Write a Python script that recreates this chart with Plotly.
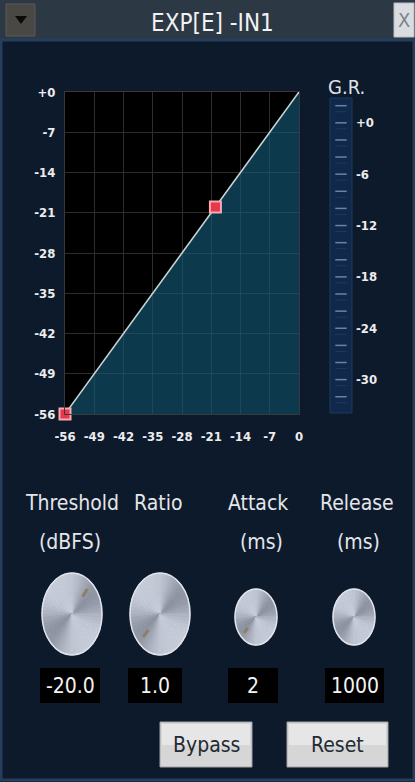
import math
import plotly.graph_objects as go

W, H = 415, 782

# ---------------- data ----------------
AXIS_TICKS = [-56, -49, -42, -35, -28, -21, -14, -7, 0]
X_TICK_TEXT = ["-56", "-49", "-42", "-35", "-28", "-21", "-14", "-7", "0"]
Y_TICK_TEXT = ["-56", "-49", "-42", "-35", "-28", "-21", "-14", "-7", "+0"]
CURVE_IN = [-56, 0]
CURVE_OUT = [-56, 0]
HANDLE_IN = [-56, -20]
HANDLE_OUT = [-56, -20]
GR_TICKS = [0, -6, -12, -18, -24, -30]
GR_TICK_TEXT = ["+0", "-6", "-12", "-18", "-24", "-30"]
GR_MARKS = [2, 0, -2, -4, -6, -8, -10, -12, -14, -16, -18, -20, -22, -24, -26, -28, -30, -32]
PARAM_NAMES = ["Threshold", "Ratio", "Attack", "Release"]
PARAM_UNITS = ["(dBFS)", "", "(ms)", "(ms)"]
PARAM_VALUES = ["-20.0", "1.0", "2", "1000"]
BUTTONS = ["Bypass", "Reset"]
TITLE = "EXP[E] -IN1"

FONT = "Liberation Sans Narrow, DejaVu Sans Condensed, Roboto Condensed, Arial Narrow, sans-serif"
BG = "#0d1a2b"


def px(x):
    return x / W


def py(y):
    return 1 - y / H


shapes = []
annotations = []


def note(text, x, y, size, color, **kw):
    d = dict(text=text, x=px(x), y=py(y), xref="paper", yref="paper", showarrow=False,
             xanchor="center", yanchor="middle", font=dict(family=FONT, size=size, color=color))
    d.update(kw)
    annotations.append(d)


# ---------------- traces ----------------
fig = go.Figure()
fig.add_trace(go.Scatter(
    x=[CURVE_IN[0], CURVE_IN[-1], CURVE_IN[-1], CURVE_IN[0]],
    y=[CURVE_OUT[0], CURVE_OUT[-1], CURVE_OUT[0], CURVE_OUT[0]],
    fill="toself", fillcolor="rgba(20,92,122,0.62)", line=dict(width=0),
    mode="lines", hoverinfo="skip", showlegend=False))
fig.add_trace(go.Scatter(
    x=CURVE_IN, y=CURVE_OUT, mode="lines",
    line=dict(color="#c9d3d6", width=1.6), hoverinfo="skip", showlegend=False))
fig.add_trace(go.Scatter(
    x=HANDLE_IN, y=HANDLE_OUT, mode="markers",
    marker=dict(symbol="square", size=11, color="#e8364a",
                line=dict(color="#f6a9b0", width=2)),
    cliponaxis=False, showlegend=False))

# G.R. meter dashes
gx, gy = [], []
for m in GR_MARKS:
    gx += [0.24, 0.76, None]
    gy += [m, m, None]
fig.add_trace(go.Scatter(x=gx, y=gy, mode="lines", xaxis="x2", yaxis="y2",
                         line=dict(color="#6a84a0", width=1.5),
                         hoverinfo="skip", showlegend=False))
fig.add_trace(go.Scatter(x=gx, y=[v - 0.7 if v is not None else None for v in gy],
                         mode="lines", xaxis="x2", yaxis="y2",
                         line=dict(color="#1d3a5c", width=1),
                         hoverinfo="skip", showlegend=False))

# ---------------- window chrome ----------------
shapes.append(dict(type="rect", xref="paper", yref="paper", x0=0, x1=1, y0=py(40), y1=1,
                   fillcolor="#2d3845", line=dict(width=0), layer="above"))
shapes.append(dict(type="rect", xref="paper", yref="paper", x0=px(6), x1=px(35), y0=py(36), y1=py(4),
                   fillcolor="#4a4844", line=dict(color="#5a5854", width=1), layer="above"))
shapes.append(dict(type="path", xref="paper", yref="paper",
                   path=f"M {px(15)},{py(16)} L {px(27)},{py(16)} L {px(21)},{py(24)} Z",
                   fillcolor="#0a0a0a", line=dict(width=0), layer="above"))
shapes.append(dict(type="rect", xref="paper", yref="paper", x0=px(394), x1=px(414), y0=py(37), y1=py(3),
                   fillcolor="#d9dde2", line=dict(color="#b9bec4", width=1), layer="above"))
note("X", 404, 20, 20, "#7a828c")
note(TITLE, 212, 23, 24, "#f2f2f2")
shapes.append(dict(type="rect", xref="paper", yref="paper", x0=px(1), x1=px(414), y0=py(780), y1=py(40),
                   fillcolor="rgba(0,0,0,0)", line=dict(color="#243e5c", width=3), layer="above"))

# ---------------- G.R. meter ----------------
shapes.append(dict(type="rect", xref="x2 domain", yref="y2 domain", x0=0, x1=1, y0=0, y1=1,
                   fillcolor="#10294a", line=dict(color="#1b3a60", width=1), layer="below"))
note("G.R.", 346, 87, 20, "#dfe3e8")

# ---------------- parameter labels, knobs, values ----------------
name_x = [72, 158, 258, 357]
unit_x = [70, 158, 261, 358]
for t, cx in zip(PARAM_NAMES, name_x):
    note(t, cx, 503, 21, "#e4e6ea")
for t, cx in zip(PARAM_UNITS, unit_x):
    if t:
        note(t, cx, 542, 21, "#e4e6ea")


def knob(cx, cy, rx, ry, notch_angle):
    n = 72
    for i in range(n):
        a0 = 2 * math.pi * i / n
        a1 = 2 * math.pi * (i + 1) / n
        am = (a0 + a1) / 2
        t = 0.6 + 0.26 * math.cos(2 * (am - math.radians(125))) + 0.06 * math.cos(4 * am + 0.9)
        t = max(0.0, min(1.0, t))
        r = int(116 + 104 * t)
        g = int(122 + 104 * t)
        b = int(136 + 102 * t)
        col = f"rgb({r},{g},{b})"
        pts = []
        for a in (a0, am, a1):
            pts.append((px(cx + rx * math.cos(a)), py(cy - ry * math.sin(a))))
        path = f"M {px(cx)},{py(cy)} " + " ".join(f"L {x},{y}" for x, y in pts) + " Z"
        shapes.append(dict(type="path", xref="paper", yref="paper", path=path,
                           fillcolor=col, line=dict(color=col, width=0.8), layer="above"))
    shapes.append(dict(type="circle", xref="paper", yref="paper",
                       x0=px(cx - rx), x1=px(cx + rx), y0=py(cy + ry), y1=py(cy - ry),
                       fillcolor="rgba(0,0,0,0)", line=dict(color="#dfe3ea", width=1.5), layer="above"))
    if notch_angle is not None:
        a = math.radians(notch_angle)
        r0, r1 = 0.55, 0.8
        shapes.append(dict(type="line", xref="paper", yref="paper",
                           x0=px(cx + rx * r0 * math.cos(a)), y0=py(cy - ry * r0 * math.sin(a)),
                           x1=px(cx + rx * r1 * math.cos(a)), y1=py(cy - ry * r1 * math.sin(a)),
                           line=dict(color="#8c8068", width=3), layer="above"))


knob(72, 614, 30, 41, 50)
knob(160, 614, 30, 41, 225)
knob(256, 617, 21, 28, 225)
knob(354, 617, 21, 28, None)

boxes = [(40, 100), (128, 182), (228, 278), (325, 384)]
for (x0, x1), v in zip(boxes, PARAM_VALUES):
    shapes.append(dict(type="rect", xref="paper", yref="paper", x0=px(x0), x1=px(x1),
                       y0=py(703), y1=py(668), fillcolor="#000000", line=dict(width=0), layer="above"))
    note(v, (x0 + x1) / 2, 686, 21, "#f4f4f4")

btns = [(160, 252), (287, 388)]
for (x0, x1), t in zip(btns, BUTTONS):
    shapes.append(dict(type="rect", xref="paper", yref="paper", x0=px(x0), x1=px(x1),
                       y0=py(767), y1=py(722), fillcolor="#d6d6d6",
                       line=dict(color="#9ea2a6", width=1), layer="above"))
    shapes.append(dict(type="rect", xref="paper", yref="paper", x0=px(x0 + 2), x1=px(x1 - 2),
                       y0=py(745), y1=py(724), fillcolor="#e6e6e6", line=dict(width=0), layer="above"))
    note(t, (x0 + x1) / 2, 745, 21, "#222a33")

tickfont = dict(family=FONT, size=13, color="#ececec", weight="bold")
fig.update_layout(
    autosize=True,
    margin=dict(l=0, r=0, t=0, b=0, pad=0),
    paper_bgcolor=BG, plot_bgcolor="#000000",
    showlegend=False,
    xaxis=dict(domain=[px(65), px(299)], range=[-56, 0], tickvals=AXIS_TICKS, ticktext=X_TICK_TEXT,
               showgrid=True, gridcolor="#2f2c2c", gridwidth=1, zeroline=False,
               showline=True, mirror=True, linecolor="#3a3838", linewidth=1, automargin=False,
               tickfont=tickfont, ticks="", ticklabelstandoff=10, fixedrange=True, anchor="y"),
    yaxis=dict(domain=[py(414), py(92)], range=[-56, 0], tickvals=AXIS_TICKS, ticktext=Y_TICK_TEXT,
               showgrid=True, gridcolor="#2f2c2c", gridwidth=1, zeroline=False,
               showline=True, mirror=True, linecolor="#3a3838", linewidth=1, automargin=False,
               tickfont=tickfont, ticks="", ticklabelstandoff=6, fixedrange=True, anchor="x"),
    xaxis2=dict(domain=[px(330), px(352)], range=[0, 1], visible=False, anchor="y2", fixedrange=True),
    yaxis2=dict(domain=[py(413), py(98)], range=[-33.9, 2.9], side="right", anchor="x2",
                tickvals=GR_TICKS, ticktext=GR_TICK_TEXT, showgrid=False, zeroline=False,
                showline=False, ticks="", tickfont=tickfont, ticklabelstandoff=3,
                automargin=False, fixedrange=True),
    shapes=shapes, annotations=annotations,
)

fig.write_html("out.html", config=dict(displayModeBar=False, staticPlot=True),
               default_width="415px; position:absolute; left:0px; top:0px",
               default_height="782px",
               post_script="document.body.style.margin='0px';document.body.style.overflow='hidden';")
